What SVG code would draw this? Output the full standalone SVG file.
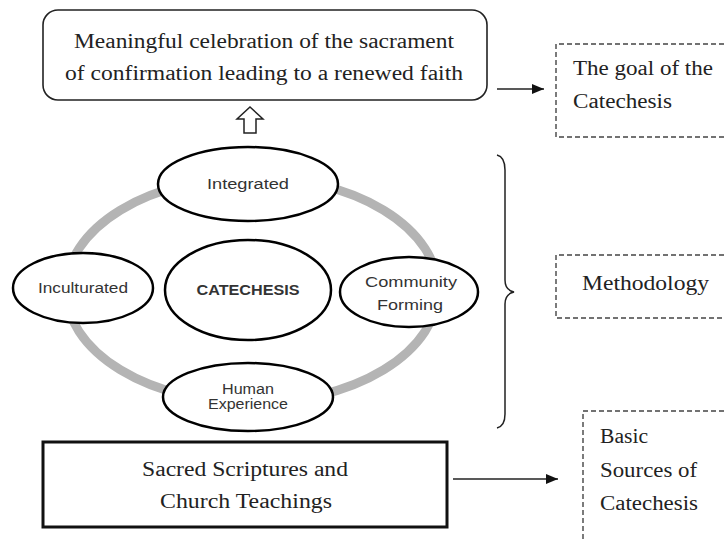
<svg xmlns="http://www.w3.org/2000/svg" width="725" height="540" viewBox="0 0 725 540">
<style>
.serif{font-family:"Liberation Serif","Times New Roman",serif;font-size:20px;fill:#222}
.sans{font-family:"Liberation Sans",Arial,sans-serif;font-size:14px;fill:#333}
.ell{fill:#fff;stroke:#000;stroke-width:2.5}
.dash{fill:none;stroke:#444;stroke-width:1.4;stroke-dasharray:5 3}
.line{fill:none;stroke:#222;stroke-width:1.5}
</style>
<defs>
<marker id="ah" markerWidth="12" markerHeight="10" refX="12" refY="5" orient="auto" markerUnits="userSpaceOnUse">
<path d="M0,0 L12,5 L0,10 Z" fill="#111"/>
</marker>
</defs>
<rect width="725" height="540" fill="#fff"/>

<g id="ring">
<ellipse cx="252" cy="290" rx="186" ry="113" fill="none" stroke="#b4b4b4" stroke-width="9"/>
</g>

<g id="goal">
<rect x="43" y="10" width="444" height="90" rx="15" ry="15" fill="#fff" stroke="#222" stroke-width="1.6"/>
<text class="serif" x="264" y="48" text-anchor="middle" textLength="380" lengthAdjust="spacingAndGlyphs">Meaningful celebration of the sacrament</text>
<text class="serif" x="264" y="80" text-anchor="middle" textLength="398" lengthAdjust="spacingAndGlyphs">of confirmation leading to a renewed faith</text>
</g>

<g id="goal-label">
<path class="dash" d="M740,44 L556,44 L556,137 L740,137"/>
<text class="serif" x="573" y="75" textLength="140" lengthAdjust="spacingAndGlyphs">The goal of the</text>
<text class="serif" x="573" y="108" textLength="99" lengthAdjust="spacingAndGlyphs">Catechesis</text>
</g>

<g id="integrated">
<ellipse class="ell" cx="248" cy="184" rx="90" ry="37"/>
<text class="sans" x="248" y="189" text-anchor="middle" textLength="82" lengthAdjust="spacingAndGlyphs">Integrated</text>
</g>

<g id="inculturated">
<ellipse class="ell" cx="83" cy="288" rx="70" ry="35"/>
<text class="sans" x="83" y="293" text-anchor="middle" textLength="90" lengthAdjust="spacingAndGlyphs">Inculturated</text>
</g>

<g id="catechesis">
<ellipse class="ell" cx="248" cy="290" rx="83" ry="50"/>
<text class="sans" x="248" y="295" text-anchor="middle" font-weight="bold" font-size="13" fill="#222" textLength="103" lengthAdjust="spacingAndGlyphs">CATECHESIS</text>
</g>

<g id="community">
<ellipse class="ell" cx="409" cy="292" rx="69" ry="35"/>
<text class="sans" x="411" y="287" text-anchor="middle" textLength="92" lengthAdjust="spacingAndGlyphs">Community</text>
<text class="sans" x="410" y="310" text-anchor="middle" textLength="66" lengthAdjust="spacingAndGlyphs">Forming</text>
</g>

<g id="human">
<ellipse class="ell" cx="248" cy="397" rx="85" ry="34"/>
<text class="sans" x="248" y="394" text-anchor="middle" font-size="13" fill="#555" textLength="52" lengthAdjust="spacingAndGlyphs">Human</text>
<text class="sans" x="248" y="409" text-anchor="middle" font-size="13" fill="#555" textLength="80" lengthAdjust="spacingAndGlyphs">Experience</text>
</g>

<g id="methodology">
<path class="dash" d="M740,255 L556,255 L556,318 L740,318"/>
<text class="serif" x="582" y="290" textLength="127" lengthAdjust="spacingAndGlyphs">Methodology</text>
</g>

<g id="sources">
<rect x="43" y="442" width="404" height="85" fill="#fff" stroke="#111" stroke-width="3"/>
<text class="serif" x="245" y="476" text-anchor="middle" textLength="206" lengthAdjust="spacingAndGlyphs">Sacred Scriptures and</text>
<text class="serif" x="246" y="508" text-anchor="middle" textLength="172" lengthAdjust="spacingAndGlyphs">Church Teachings</text>
</g>

<g id="sources-label">
<path class="dash" d="M740,411 L583,411 L583,560"/>
<text class="serif" x="600" y="443" textLength="48" lengthAdjust="spacingAndGlyphs">Basic</text>
<text class="serif" x="600" y="477" textLength="97" lengthAdjust="spacingAndGlyphs">Sources of</text>
<text class="serif" x="600" y="510" textLength="98" lengthAdjust="spacingAndGlyphs">Catechesis</text>
</g>

<g id="connectors">
<line class="line" x1="497" y1="89" x2="544" y2="89" marker-end="url(#ah)"/>
<line class="line" x1="453" y1="479" x2="558" y2="479" marker-end="url(#ah)"/>
<path d="M250,107 L263,119 L256,119 L256,133 L244,133 L244,119 L237,119 Z" fill="#fff" stroke="#222" stroke-width="1.5"/>
<path class="line" d="M497,155 Q505,157 505,170 L505,280 Q505,290 514,292 Q505,294 505,304 L505,414 Q505,426 497,428" stroke="#333"/>
</g>
</svg>
